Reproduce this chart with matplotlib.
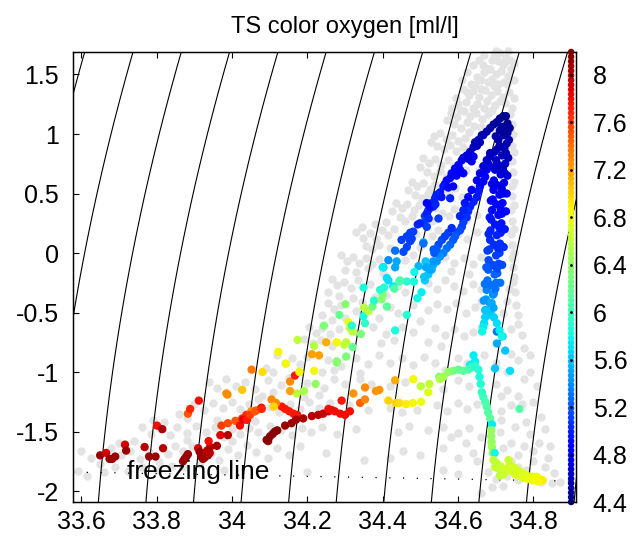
import matplotlib
matplotlib.use('Agg')
import matplotlib.pyplot as plt
import matplotlib.colors as mcolors
import numpy as np

plt.rcParams['font.family'] = ['Liberation Sans', 'DejaVu Sans']
plt.rcParams['axes.unicode_minus'] = False

# ---- data: (salinity, potential temperature) of all stations, grey background
grey_top = [
    (34.695, 1.66), (34.712, 1.68), (34.728, 1.64), (34.705, 1.61), (34.722, 1.60), (34.738, 1.62), (34.700, 1.70),
    (34.668, 1.52), (34.685, 1.55), (34.700, 1.50), (34.715, 1.53), (34.732, 1.49), (34.660, 1.45), (34.690, 1.46),
    (34.722, 1.44), (34.740, 1.55), (34.645, 1.41), (34.707, 1.42),
    (34.612, 1.38), (34.628, 1.33), (34.640, 1.36), (34.655, 1.31), (34.672, 1.37), (34.688, 1.33), (34.703, 1.36),
    (34.718, 1.31), (34.735, 1.35), (34.620, 1.27), (34.650, 1.25), (34.678, 1.28), (34.697, 1.24), (34.725, 1.26),
    (34.742, 1.22), (34.595, 1.30),
    (34.580, 1.18), (34.598, 1.14), (34.615, 1.19), (34.632, 1.15), (34.648, 1.18), (34.663, 1.13), (34.680, 1.17),
    (34.590, 1.08), (34.607, 1.05), (34.625, 1.10), (34.642, 1.07), (34.660, 1.06), (34.738, 1.17), (34.742, 1.08),
    (34.570, 1.12),
    (34.535, 0.98), (34.552, 1.01), (34.568, 0.96), (34.585, 0.99), (34.600, 0.94), (34.618, 0.97), (34.630, 1.02),
    (34.545, 0.90), (34.562, 0.87), (34.578, 0.91), (34.595, 0.86), (34.612, 0.89), (34.740, 0.98), (34.744, 0.90),
    (34.528, 0.93), (34.690, 1.04),
    (34.508, 0.80), (34.522, 0.76), (34.540, 0.79), (34.555, 0.74), (34.572, 0.78), (34.588, 0.73), (34.605, 0.76),
    (34.518, 0.68), (34.535, 0.65), (34.552, 0.69), (34.568, 0.64), (34.585, 0.67), (34.620, 0.70), (34.742, 0.77),
    (34.745, 0.68), (34.498, 0.72), (34.655, 0.70),
    (34.600, 1.25), (34.610, 1.45), (34.625, 1.52), (34.640, 1.58), (34.655, 1.62), (34.670, 1.66), (34.680, 1.44),
    (34.665, 1.58), (34.650, 1.48), (34.635, 1.42), (34.623, 1.35), (34.660, 1.38), (34.695, 1.40), (34.710, 1.28),
    (34.730, 1.42), (34.748, 1.30), (34.748, 1.45), (34.748, 1.60), (34.745, 1.00), (34.748, 0.85), (34.748, 0.60),
    (34.748, 0.40), (34.748, 0.20), (34.748, 0.00), (34.748, -0.20), (34.585, 1.22), (34.605, 1.20), (34.640, 1.22),
    (34.670, 1.22), (34.690, 1.20), (34.690, 1.62), (34.680, 1.55), (34.720, 1.58), (34.733, 1.70),
]
grey_mid = [
    (34.478, 0.60), (34.492, 0.56), (34.508, 0.59), (34.525, 0.54), (34.540, 0.58), (34.558, 0.53), (34.575, 0.50),
    (34.592, 0.55), (34.487, 0.49), (34.503, 0.46), (34.520, 0.50), (34.536, 0.47), (34.742, 0.56), (34.744, 0.48),
    (34.468, 0.53), (34.610, 0.47), (34.640, 0.55),
    (34.435, 0.42), (34.450, 0.38), (34.465, 0.41), (34.482, 0.36), (34.497, 0.40), (34.540, 0.38), (34.557, 0.34),
    (34.575, 0.31), (34.590, 0.37), (34.445, 0.30), (34.460, 0.27), (34.478, 0.31), (34.530, 0.27), (34.740, 0.36),
    (34.742, 0.27), (34.425, 0.35), (34.620, 0.28), (34.650, 0.32),
    (34.330, 0.18), (34.348, 0.13), (34.365, 0.17), (34.382, 0.12), (34.398, 0.19), (34.415, 0.15), (34.430, 0.20),
    (34.488, 0.16), (34.530, 0.14), (34.548, 0.19), (34.570, 0.12), (34.600, 0.16), (34.625, 0.12), (34.650, 0.18),
    (34.740, 0.16), (34.742, 0.07), (34.356, 0.06), (34.372, 0.03), (34.390, 0.07), (34.420, 0.04), (34.500, 0.05),
    (34.345, 0.22), (34.380, 0.24), (34.410, 0.26),
    (34.290, -0.02), (34.305, -0.07), (34.320, -0.03), (34.338, -0.08), (34.355, -0.04), (34.372, -0.09),
    (34.390, -0.05), (34.460, -0.06), (34.480, -0.02), (34.545, -0.07), (34.565, -0.03), (34.590, -0.08),
    (34.615, -0.04), (34.640, -0.09), (34.660, -0.03), (34.742, -0.04), (34.745, -0.12), (34.300, -0.14),
    (34.330, -0.16), (34.360, -0.13), (34.400, -0.17), (34.580, -0.15), (34.630, -0.18),
    (34.265, -0.22), (34.280, -0.27), (34.298, -0.24), (34.315, -0.29), (34.335, -0.23), (34.365, -0.26),
    (34.440, -0.28), (34.460, -0.33), (34.520, -0.25), (34.545, -0.30), (34.565, -0.23), (34.590, -0.28),
    (34.612, -0.32), (34.640, -0.26), (34.660, -0.30), (34.745, -0.24), (34.750, -0.33), (34.255, -0.33),
    (34.285, -0.36), (34.320, -0.38), (34.380, -0.37), (34.410, -0.35),
    (34.255, -0.42), (34.272, -0.47), (34.290, -0.44), (34.330, -0.49), (34.345, -0.41), (34.420, -0.45),
    (34.440, -0.50), (34.480, -0.44), (34.520, -0.48), (34.545, -0.43), (34.570, -0.47), (34.595, -0.42),
    (34.620, -0.50), (34.645, -0.45), (34.660, -0.40), (34.755, -0.44), (34.760, -0.52), (34.240, -0.52),
    (34.265, -0.56), (34.300, -0.55), (34.390, -0.55), (34.500, -0.57),
    (34.205, -0.62), (34.222, -0.67), (34.240, -0.63), (34.260, -0.68), (34.285, -0.64), (34.330, -0.66),
    (34.375, -0.62), (34.410, -0.68), (34.450, -0.62), (34.480, -0.66), (34.540, -0.63), (34.565, -0.69),
    (34.590, -0.64), (34.615, -0.70), (34.640, -0.66), (34.660, -0.62), (34.740, -0.64), (34.770, -0.69),
    (34.190, -0.72), (34.215, -0.76), (34.235, -0.73), (34.265, -0.78), (34.395, -0.76), (34.430, -0.73),
    (34.520, -0.75), (34.555, -0.78),
]
grey_low = [
    (34.120, -0.86), (34.140, -0.92), (34.160, -0.88), (34.180, -0.93), (34.200, -0.87), (34.255, -0.90),
    (34.290, -0.95), (34.330, -0.88), (34.360, -0.93), (34.390, -0.86), (34.420, -0.92), (34.450, -0.88),
    (34.480, -0.94), (34.510, -0.87), (34.540, -0.92), (34.600, -0.88), (34.625, -0.92), (34.670, -0.86),
    (34.760, -0.90), (34.790, -0.86), (34.090, -0.97), (34.110, -1.00), (34.240, -1.00), (34.270, -0.98),
    (34.340, -1.01), (34.565, -0.98), (34.700, -0.92),
    (33.940, -1.08), (33.960, -1.13), (33.985, -1.06), (34.010, -1.12), (34.035, -1.08), (34.060, -1.14),
    (34.095, -1.07), (34.130, -1.11), (34.150, -1.05), (34.200, -1.09), (34.245, -1.13), (34.270, -1.06),
    (34.300, -1.10), (34.340, -1.06), (34.370, -1.10), (34.420, -1.12), (34.460, -1.08), (34.560, -1.14),
    (34.600, -1.07), (34.630, -1.12), (34.700, -1.10), (34.730, -1.15), (34.775, -1.06), (34.810, -1.12),
    (34.080, -1.20), (34.110, -1.17), (34.190, -1.21), (34.230, -1.19),
    (33.900, -1.27), (33.925, -1.32), (33.950, -1.26), (33.975, -1.30), (34.000, -1.25), (34.020, -1.31),
    (34.045, -1.27), (34.070, -1.23), (34.100, -1.29), (34.125, -1.34), (34.155, -1.27), (34.180, -1.31),
    (34.205, -1.25), (34.230, -1.30), (34.260, -1.26), (34.310, -1.28), (34.360, -1.32), (34.420, -1.30),
    (34.450, -1.34), (34.490, -1.32), (34.545, -1.28), (34.570, -1.33), (34.600, -1.26), (34.625, -1.31),
    (34.650, -1.27), (34.715, -1.33), (34.740, -1.28), (34.770, -1.27), (33.860, -1.35), (33.880, -1.39),
    (33.760, -1.46), (33.785, -1.52), (33.810, -1.48), (33.835, -1.53), (33.855, -1.46), (33.880, -1.51),
    (33.905, -1.45), (33.930, -1.50), (33.955, -1.46), (33.980, -1.55), (34.000, -1.48), (34.020, -1.52),
    (34.045, -1.47), (34.070, -1.50), (34.100, -1.45), (34.130, -1.49), (34.160, -1.53), (34.185, -1.47),
    (34.210, -1.50), (34.240, -1.46), (34.280, -1.52), (34.330, -1.48), (34.440, -1.50), (34.470, -1.45),
    (34.520, -1.49), (34.560, -1.46), (34.600, -1.51), (34.630, -1.47), (34.710, -1.50), (34.750, -1.46),
    (34.790, -1.52), (34.830, -1.48), (33.790, -1.40), (33.820, -1.42), (33.960, -1.40), (34.060, -1.41),
    (33.600, -1.66), (33.625, -1.72), (33.650, -1.77), (33.680, -1.64), (33.705, -1.70), (33.730, -1.66),
    (33.755, -1.73), (33.780, -1.67), (33.805, -1.76), (33.830, -1.69), (33.850, -1.62), (33.870, -1.66),
    (33.895, -1.62), (33.915, -1.77), (33.945, -1.68), (33.965, -1.74), (33.990, -1.65), (34.015, -1.70),
    (34.040, -1.61), (34.065, -1.67), (34.095, -1.72), (34.120, -1.64), (34.150, -1.70), (34.180, -1.62),
    (34.250, -1.68), (34.350, -1.74), (34.420, -1.72), (34.455, -1.66), (34.500, -1.70), (34.560, -1.64),
    (34.600, -1.72), (34.640, -1.68), (34.720, -1.64), (34.760, -1.70), (34.800, -1.66), (34.840, -1.72),
    (33.740, -1.58), (33.700, -1.60), (33.880, -1.57), (34.000, -1.58),
    (33.590, -1.83), (33.615, -1.87), (33.660, -1.84), (33.690, -1.80), (33.725, -1.83), (33.760, -1.80),
    (33.800, -1.82), (33.840, -1.79), (33.870, -1.80), (33.980, -1.82), (34.200, -1.84), (34.560, -1.82),
    (34.600, -1.86), (34.680, -1.84), (34.700, -1.90), (34.730, -1.87), (34.760, -1.91), (34.790, -1.90),
    (34.820, -1.92), (34.850, -1.93), (34.870, -1.92), (34.690, -1.97), (34.720, -1.96), (34.660, -2.02),
    (34.730, -0.40), (34.760, -0.60), (34.775, -0.80), (34.740, -0.85), (34.790, -1.00), (34.760, -1.20),
    (34.800, -1.25), (34.820, -1.38), (34.780, -1.42), (34.740, -1.60), (34.775, -1.62), (34.815, -1.60),
    (34.845, -1.62), (34.800, -1.75), (34.830, -1.80), (34.855, -1.85), (34.740, -1.75), (34.760, -1.80),
    (34.780, -1.82), (34.660, -1.55), (34.650, -1.75), (34.620, -1.60), (34.580, -1.55), (34.720, -0.50),
    (34.735, -0.30), (34.730, -1.00), (34.715, -1.20), (34.715, -1.40),
]

# ---- data: colored casts (salinity, temperature, oxygen ml/l)
cast_core = [
    (34.727, 1.15, 4.45), (34.720, 1.15, 4.45), (34.711, 1.13, 4.45), (34.703, 1.10, 4.5), (34.694, 1.08, 4.5),
    (34.685, 1.05, 4.5), (34.676, 1.02, 4.55), (34.667, 0.99, 4.55),
    (34.731, 1.09, 4.45), (34.731, 1.01, 4.5), (34.729, 0.92, 4.55), (34.727, 0.84, 4.6), (34.725, 0.75, 4.65),
    (34.724, 0.67, 4.7), (34.722, 0.59, 4.75), (34.720, 0.50, 4.8), (34.718, 0.42, 4.85), (34.716, 0.33, 4.9),
    (34.715, 0.25, 4.95), (34.713, 0.17, 5.0), (34.711, 0.08, 5.05), (34.710, 0.00, 5.1), (34.708, -0.09, 5.15),
    (34.704, -0.17, 5.2), (34.701, -0.25, 5.3), (34.695, -0.34, 5.4), (34.689, -0.42, 5.5),
    (34.711, 1.03, 4.5), (34.707, 0.95, 4.55), (34.703, 0.87, 4.6), (34.701, 0.78, 4.65), (34.698, 0.70, 4.7),
    (34.695, 0.61, 4.75), (34.694, 0.53, 4.8), (34.692, 0.45, 4.85), (34.690, 0.36, 4.9), (34.688, 0.28, 4.95),
    (34.686, 0.19, 5.0), (34.685, 0.11, 5.05), (34.683, 0.03, 5.1), (34.681, -0.06, 5.15), (34.680, -0.14, 5.2),
    (34.678, -0.23, 5.3), (34.676, -0.31, 5.35), (34.674, -0.39, 5.45), (34.672, -0.48, 5.55),
    (34.721, 0.99, 4.5), (34.717, 0.82, 4.6), (34.713, 0.66, 4.7), (34.710, 0.49, 4.8), (34.707, 0.32, 4.9),
    (34.703, 0.15, 5.0), (34.701, -0.02, 5.1), (34.697, -0.18, 5.25), (34.693, -0.35, 5.4), (34.688, -0.52, 5.6),
    (34.716, 1.06, 4.5), (34.710, 0.90, 4.55), (34.707, 0.74, 4.65), (34.704, 0.57, 4.75), (34.701, 0.41, 4.85),
    (34.698, 0.24, 4.95), (34.695, 0.07, 5.05), (34.692, -0.10, 5.15), (34.688, -0.27, 5.3), (34.684, -0.42, 5.5),
    (34.726, 1.04, 4.5), (34.723, 0.88, 4.55), (34.719, 0.71, 4.65), (34.716, 0.54, 4.75), (34.713, 0.37, 4.85),
    (34.710, 0.21, 4.95), (34.706, 0.04, 5.05), (34.703, -0.13, 5.15), (34.699, -0.30, 5.3), (34.694, -0.46, 5.5),
    (34.737, 1.05, 4.5), (34.735, 0.95, 4.55), (34.733, 0.80, 4.6), (34.731, 0.65, 4.7), (34.729, 0.50, 4.8),
    (34.727, 0.35, 4.9), (34.724, 0.20, 4.95), (34.721, 0.05, 5.05), (34.717, -0.10, 5.15), (34.712, -0.25, 5.3),
    (34.700, 0.98, 4.55), (34.697, 0.85, 4.6), (34.694, 0.72, 4.65), (34.690, 0.58, 4.75), (34.687, 0.44, 4.85),
    (34.684, 0.30, 4.95), (34.681, 0.16, 5.0), (34.678, 0.02, 5.1), (34.675, -0.12, 5.2), (34.671, -0.26, 5.3),
    (34.668, -0.40, 5.45),
    (34.674, -0.48, 5.6), (34.672, -0.54, 5.65), (34.669, -0.59, 5.7), (34.667, -0.62, 5.75), (34.664, -0.66, 5.8),
    (34.695, -0.54, 5.65), (34.703, -0.59, 5.7), (34.710, -0.65, 5.75), (34.716, -0.70, 5.8),
]
cast_upper = [
    (34.663, 0.99, 4.55), (34.654, 0.95, 4.6), (34.645, 0.93, 4.6), (34.641, 0.89, 4.65), (34.632, 0.85, 4.65),
    (34.623, 0.82, 4.7), (34.614, 0.80, 4.75), (34.610, 0.78, 4.75), (34.601, 0.74, 4.8), (34.592, 0.71, 4.8),
    (34.583, 0.67, 4.85), (34.579, 0.63, 4.85), (34.570, 0.61, 4.9), (34.565, 0.58, 4.9), (34.561, 0.56, 4.95),
    (34.552, 0.51, 4.95), (34.543, 0.49, 5.0), (34.539, 0.46, 5.0), (34.530, 0.42, 5.0), (34.526, 0.38, 5.05),
    (34.521, 0.36, 5.05), (34.517, 0.33, 5.05), (34.512, 0.31, 5.1), (34.508, 0.25, 5.1),
    (34.641, 0.81, 4.75), (34.636, 0.77, 4.8), (34.614, 0.67, 4.85), (34.587, 0.56, 4.9), (34.579, 0.46, 5.0),
    (34.548, 0.29, 5.1), (34.534, 0.39, 5.0), (34.517, 0.22, 5.1), (34.508, 0.08, 5.3),
    (34.499, 0.25, 5.0), (34.493, 0.24, 5.0), (34.477, 0.12, 5.1), (34.473, 0.10, 5.1), (34.464, 0.05, 5.1),
    (34.455, 0.01, 5.15), (34.433, 0.02, 5.3), (34.437, -0.07, 5.5), (34.433, -0.12, 5.5), (34.415, -0.06, 5.4),
    (34.402, -0.12, 5.6), (34.400, -0.12, 5.75), (34.411, -0.21, 5.7), (34.415, -0.23, 5.7), (34.428, -0.28, 5.75),
    (34.431, -0.30, 6.1), (34.444, -0.24, 6.1), (34.446, -0.23, 6.05), (34.393, -0.31, 5.9), (34.404, -0.29, 5.9),
    (34.349, -0.29, 5.85), (34.450, 0.11, 5.1), (34.464, 0.14, 5.1), (34.473, 0.17, 5.1), (34.481, 0.18, 5.1),
    (34.526, 0.39, 4.9), (34.517, 0.42, 4.9), (34.517, 0.33, 5.0),
    (34.658, 0.93, 4.6), (34.650, 0.90, 4.6), (34.628, 0.79, 4.7), (34.605, 0.70, 4.8), (34.596, 0.65, 4.85),
    (34.574, 0.55, 4.9), (34.556, 0.47, 4.95), (34.540, 0.41, 5.0), (34.522, 0.29, 5.05),
]
cast_lower = [
    (34.685, 0.81, 4.7), (34.680, 0.75, 4.75), (34.676, 0.70, 4.8), (34.672, 0.64, 4.85), (34.667, 0.60, 4.9),
    (34.658, 0.56, 4.9), (34.654, 0.52, 4.95), (34.650, 0.47, 4.95), (34.641, 0.43, 5.0), (34.632, 0.39, 5.0),
    (34.627, 0.35, 5.05), (34.623, 0.30, 5.05), (34.614, 0.26, 5.1), (34.610, 0.22, 5.1), (34.605, 0.19, 5.15),
    (34.596, 0.17, 5.15), (34.592, 0.14, 5.2), (34.587, 0.11, 5.2), (34.579, 0.07, 5.25), (34.570, 0.04, 5.3),
    (34.561, 0.00, 5.35), (34.552, -0.03, 5.4), (34.543, -0.07, 5.45), (34.534, -0.10, 5.5), (34.530, -0.14, 5.55),
    (34.521, -0.18, 5.6), (34.512, -0.23, 5.65),
    (34.605, 0.31, 5.0), (34.614, 0.36, 5.0), (34.618, 0.42, 4.95), (34.627, 0.47, 4.9), (34.636, 0.53, 4.85),
    (34.650, 0.61, 4.8), (34.658, 0.67, 4.75), (34.667, 0.73, 4.7), (34.676, 0.78, 4.65), (34.685, 0.84, 4.6),
    (34.535, 0.03, 5.2), (34.548, 0.07, 5.15), (34.557, 0.11, 5.15), (34.565, 0.14, 5.1), (34.574, 0.17, 5.1),
    (34.583, 0.21, 5.05), (34.537, 0.00, 5.2), (34.543, 0.03, 5.2), (34.534, -0.07, 5.45), (34.508, 0.09, 5.55),
    (34.514, -0.07, 5.6), (34.495, -0.11, 5.55), (34.515, -0.12, 5.5), (34.526, -0.14, 5.5), (34.510, -0.20, 5.6),
    (34.503, -0.33, 5.75), (34.492, -0.38, 5.8), (34.484, -0.16, 5.8), (34.483, -0.24, 5.85), (34.464, -0.24, 5.9),
    (34.464, -0.52, 5.9), (34.433, -0.65, 5.85),
]
cast_mid = [
    (34.309, -0.58, 6.8), (34.313, -0.63, 6.6), (34.320, -0.66, 6.6), (34.285, -0.52, 6.2), (34.301, -0.43, 6.35),
    (34.318, -0.61, 5.9), (34.244, -0.61, 6.3), (34.174, -0.73, 6.6), (34.218, -0.78, 6.55), (34.250, -0.75, 7.15),
    (34.278, -0.75, 6.85), (34.303, -0.75, 6.6), (34.298, -0.77, 6.6), (34.320, -0.79, 6.2), (34.303, -0.87, 6.3),
    (34.278, -0.92, 6.35), (34.212, -0.85, 7.2), (34.231, -0.86, 7.2), (34.123, -0.83, 6.85), (34.143, -0.93, 6.85),
    (34.342, -0.68, 6.3), (34.353, -0.59, 5.95), (34.349, -0.53, 5.85), (34.350, -0.46, 6.55), (34.362, -0.49, 6.6),
    (34.373, -0.45, 6.25), (34.377, -0.40, 5.9), (34.411, -0.45, 6.15), (34.397, -0.39, 6.35), (34.400, -0.35, 6.35),
    (34.052, -0.98, 7.35), (34.081, -1.00, 6.95), (34.105, -1.23, 7.3), (34.117, -1.26, 7.3), (34.111, -1.29, 7.0),
    (34.154, -1.08, 7.3), (34.167, -1.03, 7.75), (34.179, -1.00, 6.85), (34.172, -1.18, 6.6), (34.191, -1.16, 6.5),
    (34.154, -1.16, 7.2), (34.218, -0.99, 6.85), (34.222, -1.10, 6.4), (34.278, -0.91, 6.35), (34.322, -1.18, 7.25),
    (34.340, -1.26, 7.45), (34.353, -1.13, 7.3), (34.353, -1.23, 7.3), (34.382, -1.16, 7.25), (34.391, -1.15, 7.25),
    (34.415, -1.24, 7.0), (34.435, -1.26, 7.0), (34.444, -1.26, 6.95), (34.462, -1.27, 6.9), (34.480, -1.26, 6.85),
    (34.502, -1.25, 6.8), (34.433, -1.07, 7.15), (34.481, -1.06, 6.85), (34.501, -1.12, 6.6), (34.524, -1.10, 6.6),
    (34.521, -1.17, 6.75), (34.550, -1.04, 6.3), (33.985, -1.18, 7.3), (33.988, -1.19, 7.3), (34.027, -1.15, 7.05),
]
cast_red = [
    (33.650, -1.70, 8.1), (33.666, -1.68, 7.9), (33.675, -1.73, 8.1), (33.682, -1.73, 8.1), (33.690, -1.71, 8.1),
    (33.716, -1.61, 7.9), (33.719, -1.66, 8.1), (33.768, -1.63, 8.0), (33.780, -1.71, 8.1), (33.797, -1.71, 8.1),
    (33.801, -1.45, 7.8), (33.815, -1.48, 8.05), (33.817, -1.64, 8.0), (33.870, -1.75, 8.1), (33.874, -1.73, 8.1),
    (33.879, -1.71, 8.1), (33.883, -1.69, 8.1), (33.883, -1.35, 7.5), (33.889, -1.31, 7.7), (33.912, -1.24, 7.8),
    (33.910, -1.64, 7.9), (33.914, -1.67, 8.1), (33.918, -1.71, 8.1), (33.923, -1.73, 8.1), (33.927, -1.72, 8.1),
    (33.932, -1.70, 8.05), (33.936, -1.70, 8.05), (33.941, -1.68, 8.0), (33.934, -1.66, 8.0), (33.942, -1.63, 8.0),
    (33.938, -1.58, 7.8), (33.960, -1.62, 8.05), (33.969, -1.53, 7.85), (33.972, -1.45, 7.6), (33.989, -1.43, 7.55),
    (33.989, -1.53, 8.0), (34.009, -1.41, 7.5), (34.027, -1.39, 7.65), (34.038, -1.36, 7.65), (34.040, -1.40, 7.8),
    (34.051, -1.33, 7.3), (34.060, -1.33, 7.3), (34.066, -1.32, 7.3), (34.078, -1.30, 7.8), (34.096, -1.58, 8.1),
    (34.021, -1.45, 7.8), (34.030, -1.40, 7.85), (34.039, -1.40, 7.75), (34.048, -1.36, 7.6), (34.061, -1.33, 7.5),
    (34.079, -1.31, 7.7), (34.132, -1.29, 7.75), (34.141, -1.31, 7.75), (34.152, -1.33, 7.75), (34.163, -1.35, 7.75),
    (34.173, -1.36, 7.75), (34.092, -1.57, 8.15), (34.101, -1.54, 8.15), (34.108, -1.52, 8.15), (34.114, -1.50, 8.15),
    (34.120, -1.49, 8.15), (34.141, -1.45, 8.1), (34.158, -1.43, 8.1), (34.170, -1.40, 8.05), (34.189, -1.39, 8.05),
    (34.212, -1.37, 8.0), (34.229, -1.36, 8.0), (34.242, -1.35, 7.95), (34.256, -1.33, 7.95), (34.256, -1.31, 7.8),
    (34.265, -1.32, 7.8), (34.273, -1.33, 7.8), (34.287, -1.35, 7.8), (34.300, -1.36, 7.8), (34.313, -1.33, 7.8),
    (34.291, -1.24, 7.75),
]
cast_deep = [
    (34.703, -0.66, 5.3), (34.718, -0.70, 5.55), (34.703, -0.76, 5.5), (34.725, -0.82, 5.6), (34.641, -0.86, 5.75),
    (34.645, -0.91, 5.75), (34.632, -0.94, 5.75), (34.698, -0.97, 5.6), (34.738, -0.99, 5.7),
    (34.552, -1.06, 6.55), (34.561, -1.04, 6.5), (34.574, -1.00, 6.4), (34.587, -0.99, 6.3), (34.601, -0.98, 6.2),
    (34.614, -0.99, 6.15), (34.627, -0.98, 6.1), (34.636, -0.96, 6.0), (34.645, -0.95, 5.9), (34.654, -0.98, 5.9),
    (34.657, -1.04, 5.85), (34.660, -1.10, 5.9), (34.663, -1.17, 5.95), (34.667, -1.21, 6.0), (34.672, -1.25, 6.05),
    (34.676, -1.29, 6.1), (34.680, -1.34, 6.1), (34.685, -1.39, 6.15), (34.690, -1.44, 5.75),
    (34.688, -1.49, 6.4), (34.688, -1.54, 6.4), (34.689, -1.59, 6.4), (34.690, -1.63, 6.45), (34.692, -1.68, 6.5),
    (34.763, -1.31, 6.1), (34.697, -1.68, 5.8),
    (34.694, -1.74, 6.6), (34.703, -1.77, 6.6), (34.698, -1.80, 6.65), (34.707, -1.81, 6.65), (34.716, -1.82, 6.65),
    (34.711, -1.87, 6.6), (34.725, -1.84, 6.7), (34.734, -1.74, 6.65), (34.738, -1.78, 6.65), (34.747, -1.80, 6.7),
    (34.756, -1.82, 6.7), (34.765, -1.84, 6.7), (34.773, -1.85, 6.7), (34.782, -1.87, 6.75), (34.791, -1.88, 6.75),
    (34.800, -1.88, 6.8), (34.809, -1.88, 6.8), (34.818, -1.90, 6.85), (34.825, -1.91, 6.9),
    (34.700, -1.76, 6.6), (34.712, -1.79, 6.65), (34.720, -1.86, 6.65), (34.730, -1.81, 6.7), (34.742, -1.83, 6.7),
    (34.752, -1.86, 6.7), (34.762, -1.87, 6.75), (34.772, -1.89, 6.75), (34.786, -1.90, 6.8), (34.798, -1.91, 6.8),
    (34.812, -1.92, 6.85),
]

o2_range = (4.4, 8.19)
o2_ticks = [4.4, 4.8, 5.2, 5.6, 6.0, 6.4, 6.8, 7.2, 7.6, 8.0]
x_ticks = [33.6, 33.8, 34.0, 34.2, 34.4, 34.6, 34.8]
x_labels = ['33.6', '33.8', '34', '34.2', '34.4', '34.6', '34.8']
y_ticks = [-2, -1.5, -1, -0.5, 0, 0.5, 1, 1.5]
y_labels = ['-2', '-1.5', '-1', '-0.5', '0', '0.5', '1', '1.5']
sigma_first, sigma_step = 27.086, 0.1028


def sigma0(s, t):
    # UNESCO 1983 density at the surface, minus 1000
    rw = (999.842594 + 6.793952e-2 * t - 9.095290e-3 * t ** 2 + 1.001685e-4 * t ** 3
          - 1.120083e-6 * t ** 4 + 6.536332e-9 * t ** 5)
    a = 0.824493 - 4.0899e-3 * t + 7.6438e-5 * t ** 2 - 8.2467e-7 * t ** 3 + 5.3875e-9 * t ** 4
    b = -5.72466e-3 + 1.0227e-4 * t - 1.6546e-6 * t ** 2
    return rw + a * s + b * s ** 1.5 + 4.8314e-4 * s ** 2 - 1000.0


def freezing(s):
    return -0.0575 * s + 1.710523e-3 * s ** 1.5 - 2.154996e-4 * s ** 2


fig = plt.figure(figsize=(6.36, 5.42), dpi=100)
ax = fig.add_axes([73 / 636, 40 / 542, 503 / 636, 450 / 542])
xlim = (33.578, 34.913)
ylim = (-2.092, 1.689)
ax.set_xlim(xlim)
ax.set_ylim(ylim)

norm = mcolors.Normalize(*o2_range)
cmap = plt.get_cmap('jet')

grey = np.array(grey_top + grey_mid + grey_low)
ax.scatter(grey[:, 0], grey[:, 1], s=36, color='#e3e3e3', linewidths=0, zorder=1, clip_on=False)

ss, tt = np.meshgrid(np.linspace(33.4, 35.0, 300), np.linspace(-2.3, 1.9, 300))
levels = sigma_first + sigma_step * np.arange(-20, 25)
ax.contour(ss, tt, sigma0(ss, tt), levels=levels, colors='k', linewidths=0.8, zorder=2)

s_line = np.linspace(xlim[0], xlim[1], 200)
ax.plot(s_line, freezing(s_line), color='k', lw=0.9, linestyle=(0, (1, 10)), zorder=2)
ax.text(33.72, -1.84, 'freezing line', fontsize=19, va='center', ha='left', zorder=5)

for cast in [cast_red, cast_mid, cast_deep, cast_lower, cast_upper, cast_core]:
    c = np.array(cast)
    ax.scatter(c[:, 0], c[:, 1], c=c[:, 2], cmap=cmap, norm=norm, s=36, linewidths=0, zorder=3)

ax.set_xticks(x_ticks)
ax.set_xticklabels(x_labels)
ax.set_yticks(y_ticks)
ax.set_yticklabels(y_labels)
ax.tick_params(direction='in', length=4, width=0.8, labelsize=18, top=True, right=False)
ax.tick_params(axis='x', pad=6)
ax.tick_params(axis='y', pad=10)
for sp in ax.spines.values():
    sp.set_linewidth(1.0)
ax.set_title('TS color oxygen [ml/l]', fontsize=17, pad=14, x=0.54)

# colorbar made of dots along the right edge
ax2 = ax.twinx()
ax2.set_ylim(o2_range)
bar_vals = np.linspace(o2_range[0], o2_range[1], 97)
ax2.scatter(np.full(bar_vals.size, 34.9), bar_vals, c=bar_vals, cmap=cmap, norm=norm,
            s=22, linewidths=0, clip_on=False, zorder=3)
ax2.scatter(np.full(len(o2_ticks), 34.9), o2_ticks, color='k', s=4, linewidths=0, zorder=4, clip_on=False)
ax2.set_yticks(o2_ticks)
ax2.set_yticklabels(['%g' % v for v in o2_ticks])
ax2.tick_params(length=0, labelsize=18, pad=12)
ax2.set_xlim(xlim)

fig.savefig('out.png', dpi=100)
